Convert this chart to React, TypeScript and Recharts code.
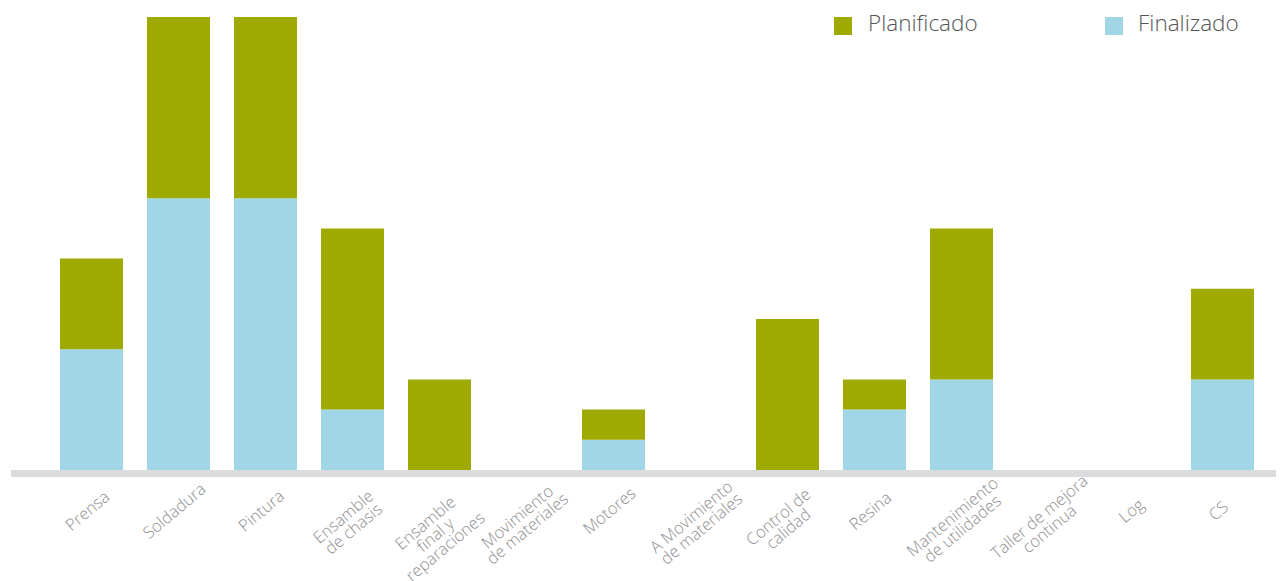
import React from "react";
import { BarChart, Bar, XAxis, YAxis } from "recharts";

const categories: string[] = [
  "Prensa",
  "Soldadura",
  "Pintura",
  "Ensamble\nde chasis",
  "Ensamble\nfinal y\nreparaciones",
  "Movimiento\nde materiales",
  "Motores",
  "A Movimiento\nde materiales",
  "Control de\ncalidad",
  "Resina",
  "Mantenimiento\nde utilidades",
  "Taller de mejora\ncontinua",
  "Log",
  "CS",
];
const finalizado: number[] = [4, 9, 9, 2, 0, 0, 1, 0, 0, 2, 3, 0, 0, 3];
const planificado: number[] = [3, 6, 6, 6, 3, 0, 1, 0, 5, 1, 5, 0, 0, 3];

const seriesNames = { plan: "Planificado", fin: "Finalizado" };
const colors = { plan: "#9EAA00", fin: "#A1D6E6" };

const data = categories.map((c, i) => ({
  name: c,
  fin: finalizado[i],
  plan: planificado[i],
}));

const FONT = "'Open Sans', 'Noto Sans', sans-serif";

const Tick = (props: any) => {
  const { x, y, payload } = props;
  const lines: string[] = String(payload.value).split("\n");
  const n = lines.length;
  const cx = x - 4;
  const cy = y + 41 + (n - 1) * 12;
  const lh = 15.5;
  return (
    <g transform={`translate(${cx},${cy}) rotate(-40)`}>
      <text
        textAnchor="middle"
        fill="#8c8c8c"
        fontSize={16.5}
        fontWeight={300}
        fontFamily={FONT}
      >
        {lines.map((l, i) => (
          <tspan key={i} x={0} y={(i - (n - 1) / 2) * lh + 5.5}>
            {l}
          </tspan>
        ))}
      </text>
    </g>
  );
};

const legendItems = [
  { key: "plan", left: 834, textLeft: 868 },
  { key: "fin", left: 1105, textLeft: 1138 },
] as const;

export default function App() {
  return (
    <div style={{ position: "absolute", left: 0, top: 0, width: 1286, height: 581, background: "#fff" }}>
      <BarChart
        width={1286}
        height={581}
        data={data}
        margin={{ top: 17, right: 10, bottom: 0, left: 11 }}
        barSize={63}
      >
        <XAxis
          dataKey="name"
          height={111}
          interval={0}
          tickLine={false}
          tickSize={0}
          tickMargin={0}
          padding={{ left: 37, right: 10 }}
          axisLine={{ stroke: "#dadbdd", strokeWidth: 7, transform: "translate(0,3.5)" } as any}
          tick={<Tick />}
        />
        <YAxis hide domain={[0, 15]} />
        <Bar dataKey="fin" stackId="a" fill={colors.fin} isAnimationActive={false} name={seriesNames.fin} />
        <Bar dataKey="plan" stackId="a" fill={colors.plan} isAnimationActive={false} name={seriesNames.plan} />
      </BarChart>
      {legendItems.map((it) => (
        <React.Fragment key={it.key}>
          <div
            style={{
              position: "absolute",
              left: it.left,
              top: 17,
              width: 18,
              height: 18,
              background: colors[it.key],
            }}
          />
          <div
            style={{
              position: "absolute",
              left: it.textLeft,
              top: 8,
              fontFamily: FONT,
              fontSize: 22.5,
              fontWeight: 350,
              lineHeight: "30px",
              color: "#555555",
              whiteSpace: "nowrap",
            }}
          >
            {seriesNames[it.key]}
          </div>
        </React.Fragment>
      ))}
    </div>
  );
}
